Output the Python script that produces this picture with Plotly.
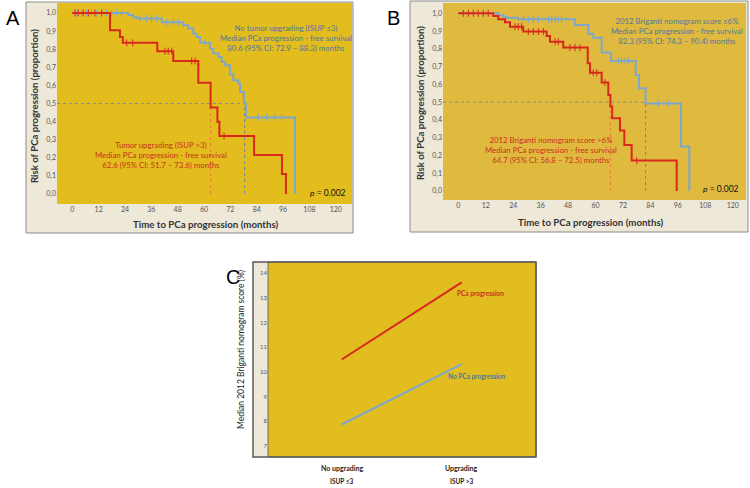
import plotly.graph_objects as go

W, H = 750, 488
def fx(p): return p / W
def fy(p): return 1 - p / H

# ---------------- data ----------------
month_ticks = list(range(0, 121, 12))
prop_ticks = [i / 10 for i in range(11)]
prop_labels = [f"{v:.1f}".replace('.', ',') for v in prop_ticks]

# Panel A: tumour upgrading
A_blue_t = [0, 25.5, 27.8, 29.3, 40.7, 50.6, 52.8, 55.1, 56.6, 58.2, 62.7, 64.2, 66.5, 68.0,
            69.6, 71.8, 73.3, 75.6, 76.4, 78.2, 79.1, 101.4]
A_blue_s = [1.0, 0.989, 0.978, 0.969, 0.949, 0.932, 0.914, 0.886, 0.868, 0.836, 0.803, 0.776,
            0.757, 0.730, 0.711, 0.662, 0.629, 0.610, 0.564, 0.500, 0.423, 0.0]
A_blue_cens = [2.0, 4.3, 6.5, 8.8, 11.1, 13.4, 15.6, 17.9, 20.2, 22.5, 30.8, 33.9, 36.1, 38.4,
               43.0, 46.0, 48.3, 60.4, 84.7, 88.5, 92.3, 95.4]
A_red_t = [0, 17.2, 21.7, 23.0, 38.7, 46.0, 57.4, 63.0, 66.1, 67.0, 82.8, 95.5, 97.3]
A_red_s = [1.0, 0.904, 0.868, 0.835, 0.789, 0.735, 0.614, 0.478, 0.399, 0.320, 0.215, 0.110, 0.0]
A_red_cens = [1.2, 2.7, 5.0, 7.3, 10.3, 13.4, 24.8, 27.5, 42.2, 43.7, 45.3, 54.4, 55.9, 69.1]
A_median_red, A_median_blue = 63.0, 78.5

# Panel B: 2012 Briganti nomogram score
B_blue_t = [0, 17.5, 19.7, 21.1, 26.2, 51.0, 56.9, 59.0, 62.7, 66.8, 77.6, 79.0, 81.9, 97.4, 101.0]
B_blue_s = [1.0, 0.99, 0.98, 0.975, 0.966, 0.934, 0.885, 0.863, 0.78, 0.732, 0.653, 0.578,
            0.493, 0.25, 0.0]
B_blue_cens = [28.4, 30.6, 32.8, 35.0, 39.4, 40.8, 42.3, 43.7, 45.2, 70.0, 71.4, 72.9, 74.3,
               87.5, 91.8]
B_red_t = [0, 15.3, 17.5, 20.4, 22.6, 28.4, 38.6, 40.1, 45.9, 56.6, 57.6, 62.7, 65.6, 66.5,
           67.3, 70.7, 72.6, 75.8, 95.5]
B_red_s = [1.0, 0.985, 0.966, 0.95, 0.925, 0.897, 0.872, 0.84, 0.807, 0.719, 0.666, 0.61, 0.54,
           0.475, 0.409, 0.34, 0.259, 0.171, 0.0]
B_red_cens = [2.2, 4.4, 6.6, 8.7, 10.9, 13.1, 24.8, 26.2, 27.7, 30.6, 32.8, 35.0, 37.2, 42.3,
              43.7, 48.8, 51.0, 53.2, 59.0, 60.5, 64.1, 78.0]
B_median_red, B_median_blue = 66.5, 81.9

# Panel C: median nomogram score
C_categories = [0, 1]
C_cat_line1 = ["No upgrading", "Upgrading"]
C_cat_line2 = ["ISUP ≤3", "ISUP >3"]
C_progression = [10.5, 13.63]
C_no_progression = [7.86, 10.31]
C_yticks = list(range(7, 15))

# ---------------- styles ----------------
RED = "#D8281C"
BLUE = "#7EA7CB"
RED_TXT = "#C9321E"
BLUE_TXT = "#4F76A3"
CREAM = "#EEE8D9"
YEL_A = "#E3BC1E"
YEL_B = "#DFBA3E"
YEL_C = "#E1BD1F"
FONT = "Lato"

def step_val(ts, ss, t):
    v = ss[0]
    for ti, si in zip(ts, ss):
        if t >= ti:
            v = si
        else:
            break
    return v

fig = go.Figure()

def km_panel(xa, ya, x_left, blue_t, blue_s, blue_c, red_t, red_s, red_c, med_r, med_b):
    fig.add_trace(go.Scatter(x=[x_left, med_b], y=[0.5, 0.5], mode="lines",
                             line=dict(color="#7C8EA3", width=1, dash="dot"),
                             xaxis=xa, yaxis=ya, showlegend=False, hoverinfo="skip"))
    fig.add_trace(go.Scatter(x=[med_r, med_r], y=[0, 0.5], mode="lines",
                             line=dict(color="#EE7A3A", width=1, dash="dot"),
                             xaxis=xa, yaxis=ya, showlegend=False, hoverinfo="skip"))
    fig.add_trace(go.Scatter(x=[med_b, med_b], y=[0, 0.5], mode="lines",
                             line=dict(color="#6D84A0", width=1, dash="dot"),
                             xaxis=xa, yaxis=ya, showlegend=False, hoverinfo="skip"))
    for t, s, c, col in [(blue_t, blue_s, blue_c, BLUE), (red_t, red_s, red_c, RED)]:
        fig.add_trace(go.Scatter(x=t, y=s, mode="lines", line=dict(color=col, width=2, shape="hv"),
                                 xaxis=xa, yaxis=ya, showlegend=False, hoverinfo="skip"))
        fig.add_trace(go.Scatter(x=c, y=[step_val(t, s, v) for v in c], mode="markers",
                                 marker=dict(symbol="line-ns", size=5, line=dict(color=col, width=1)),
                                 xaxis=xa, yaxis=ya, showlegend=False, hoverinfo="skip"))

km_panel("x", "y", -6.97, A_blue_t, A_blue_s, A_blue_cens, A_red_t, A_red_s, A_red_cens,
         A_median_red, A_median_blue)
km_panel("x2", "y2", -6.69, B_blue_t, B_blue_s, B_blue_cens, B_red_t, B_red_s, B_red_cens,
         B_median_red, B_median_blue)

fig.add_trace(go.Scatter(x=C_categories, y=C_progression, mode="lines",
                         line=dict(color=RED, width=2), xaxis="x3", yaxis="y3",
                         showlegend=False, hoverinfo="skip"))
fig.add_trace(go.Scatter(x=C_categories, y=C_no_progression, mode="lines",
                         line=dict(color=BLUE, width=2), xaxis="x3", yaxis="y3",
                         showlegend=False, hoverinfo="skip"))

tickfont = dict(family=FONT, size=7, color="#555555")
common = dict(showgrid=False, zeroline=False, showline=False, ticks="", fixedrange=True)

fig.update_layout(
    width=W, height=H, margin=dict(l=0, r=0, t=0, b=0),
    paper_bgcolor="white", plot_bgcolor="rgba(0,0,0,0)",
    xaxis=dict(domain=[fx(57), fx(352)], range=[-6.97, 127.4], tickvals=month_ticks,
               tickfont=tickfont, anchor="y", **common),
    yaxis=dict(domain=[fy(204), fy(3)], range=[-0.0552, 1.0552], tickvals=prop_ticks,
               ticktext=prop_labels, tickfont=tickfont, anchor="x", **common),
    xaxis2=dict(domain=[fx(443), fx(746)], range=[-6.69, 125.8], tickvals=month_ticks,
                tickfont=tickfont, anchor="y2", **common),
    yaxis2=dict(domain=[fy(200), fy(3)], range=[-0.0506, 1.058], tickvals=prop_ticks,
                ticktext=prop_labels, tickfont=tickfont, anchor="x2", **common),
    xaxis3=dict(domain=[fx(268), fx(536)], range=[-0.614, 1.619], showticklabels=False,
                anchor="y3", **common),
    yaxis3=dict(domain=[fy(457), fy(262)], range=[6.54, 14.46], tickvals=C_yticks,
                tickfont=dict(family=FONT, size=6, color="#555555"), anchor="x3", **common),
)

shapes = [
    dict(type="rect", xref="paper", yref="paper", x0=fx(26), x1=fx(353), y0=fy(233), y1=fy(2),
         fillcolor=CREAM, line=dict(color="#8C8C8C", width=1), layer="below"),
    dict(type="rect", xref="x domain", yref="y domain", x0=0, x1=1, y0=0, y1=1,
         fillcolor=YEL_A, line=dict(width=0), layer="below"),
    dict(type="rect", xref="paper", yref="paper", x0=fx(410), x1=fx(748), y0=fy(232), y1=fy(1),
         fillcolor=CREAM, line=dict(color="#8C8C8C", width=1), layer="below"),
    dict(type="rect", xref="x2 domain", yref="y2 domain", x0=0, x1=1, y0=0, y1=1,
         fillcolor=YEL_B, line=dict(width=0), layer="below"),
    dict(type="rect", xref="paper", yref="paper", x0=fx(253), x1=fx(536), y0=fy(457), y1=fy(262),
         fillcolor=CREAM, line=dict(width=0), layer="below"),
    dict(type="rect", xref="x3 domain", yref="y3 domain", x0=0, x1=1, y0=0, y1=1,
         fillcolor=YEL_C, line=dict(color="#6E6E6E", width=1), layer="below"),
    dict(type="rect", xref="paper", yref="paper", x0=fx(253), x1=fx(536), y0=fy(457), y1=fy(262),
         fillcolor="rgba(0,0,0,0)", line=dict(color="#5A5A5A", width=1.5), layer="above"),
]
fig.update_layout(shapes=shapes)

ann = []
def A(**k):
    base = dict(showarrow=False, xanchor="center", yanchor="middle")
    base.update(k)
    ann.append(base)

title_font = dict(family=FONT, size=9.7, color="#333333")
ytitle_font = dict(family=FONT, size=9.6, color="#333333")
A(text="A", xref="paper", yref="paper", x=fx(13), y=fy(18), font=dict(family="Liberation Sans", size=20, color="black"))
A(text="B", xref="paper", yref="paper", x=fx(393), y=fy(18), font=dict(family="Liberation Sans", size=20, color="black"))
A(text="C", xref="paper", yref="paper", x=fx(233), y=fy(277), font=dict(family="Liberation Sans", size=20, color="black"))

A(text="<b>Time to PCa progression (months)</b>", xref="paper", yref="paper",
  x=fx(205), y=fy(224), font=title_font)
A(text="<b>Risk of PCa progression (proportion)</b>", xref="paper", yref="paper",
  x=fx(35), y=fy(106), textangle=-90, font=ytitle_font)
A(text="<b>Time to PCa progression (months)</b>", xref="paper", yref="paper",
  x=fx(590), y=fy(222), font=title_font)
A(text="<b>Risk of PCa progression (proportion)</b>", xref="paper", yref="paper",
  x=fx(420), y=fy(103), textangle=-90, font=ytitle_font)
A(text="Median 2012 Briganti nomogram score (%)", xref="paper", yref="paper",
  x=fx(241), y=fy(350), textangle=-90, font=dict(family=FONT, size=8.5, color="#222222"))

txt = dict(family=FONT, size=7.8)
A(text="No tumor upgrading (ISUP ≤3)<br>Median PCa progression - free survival<br>80.6 (95% CI: 72.9 – 88.3) months",
  xref="x", yref="y", x=97.4, y=0.86, font=dict(color=BLUE_TXT, **txt), align="center")
A(text="Tumor upgrading (ISUP >3)<br>Median PCa progression - free survival<br>62.6 (95% CI: 51.7 – 73.6) months",
  xref="x", yref="y", x=40.4, y=0.215, font=dict(color=RED_TXT, **txt), align="center")
A(text="<i>p</i> = 0.002", xref="x", yref="y", x=125.5, y=0.005, xanchor="right",
  font=dict(family=FONT, size=8.5, color="#111111"))

A(text="2012 Briganti nomogram score ≤6%<br>Median PCa progression - free survival<br>82.3 (95% CI: 74.3 – 90.4) months",
  xref="x2", yref="y2", x=95.5, y=0.9, font=dict(color=BLUE_TXT, **txt), align="center")
A(text="2012 Briganti nomogram score >6%<br>Median PCa progression - free survival<br>64.7 (95% CI: 56.8 – 72.5) months",
  xref="x2", yref="y2", x=40.4, y=0.23, font=dict(color=RED_TXT, **txt), align="center")
A(text="<i>p</i> = 0.002", xref="x2", yref="y2", x=123.8, y=0.01, xanchor="right",
  font=dict(family=FONT, size=8.5, color="#111111"))

for i, c in enumerate(C_categories):
    A(text=f"<b>{C_cat_line1[i]}</b>", xref="x3", yref="paper", x=c, y=fy(468),
      font=dict(family=FONT, size=7, color="#222222"))
    A(text=f"<b>{C_cat_line2[i]}</b>", xref="x3", yref="paper", x=c, y=fy(481),
      font=dict(family=FONT, size=6.5, color="#222222"))
A(text="<b>PCa progression</b>", xref="x3", yref="y3", x=1.16, y=13.2,
  font=dict(family=FONT, size=6.5, color=RED_TXT))
A(text="<b>No PCa progression</b>", xref="x3", yref="y3", x=1.12, y=9.8,
  font=dict(family=FONT, size=6.5, color=BLUE_TXT))

fig.update_layout(annotations=ann)
fig.write_html("out.html", config={"displayModeBar": False},
               post_script="document.body.style.margin='0px';document.body.style.overflow='hidden';")
